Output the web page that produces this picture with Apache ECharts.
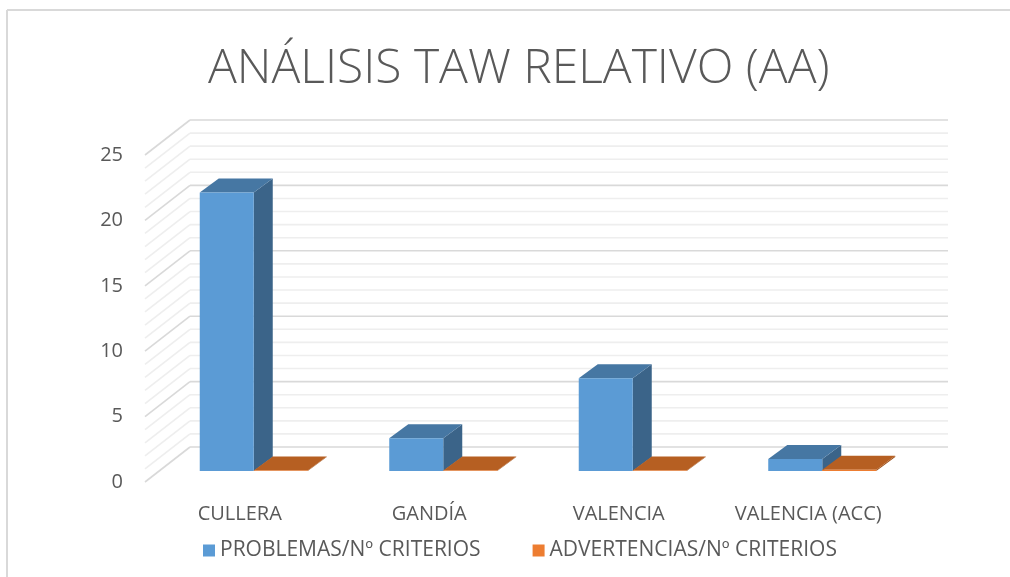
<!DOCTYPE html>
<html>
<head>
<meta charset="utf-8">
<script src="https://cdn.jsdelivr.net/npm/echarts@6/dist/echarts.min.js"></script>
<style>
  html, body { margin: 0; padding: 0; background: #ffffff; }
  #chart { width: 1010px; height: 577px; }
</style>
</head>
<body>
<div id="chart"></div>
<script>
// ---- data ----
const categories = ['CULLERA', 'GANDÍA', 'VALENCIA', 'VALENCIA (ACC)'];
const problemas = [21.3, 2.5, 7.1, 0.92];
const advertencias = [0.03, 0.03, 0.03, 0.1];
const seriesNames = ['PROBLEMAS/Nº CRITERIOS', 'ADVERTENCIAS/Nº CRITERIOS'];
const yMin = 0, yMax = 25, yInterval = 5, yMinor = 1;

// ---- styling constants ----
const FONT = '"Open Sans", "Noto Sans", sans-serif';
const TXT = '#595959';
const BAR_DEPTH = { dx: 19, dy: -14 };
const WALL = { dx: 31, dy: -24 };
const FRONT = { dx: -14, dy: 11 };
const BAR_FRAC = 0.285;
const BLUE = { front: '#5B9BD5', side: '#3B6489', top: '#4677A3' };
const ORANGE = { front: '#ED7D31', side: '#9E5019', top: '#B65F22' };

// gridline positions on the back wall (axis decoration)
const gridValues = [];
for (let v = yMin; v <= yMax; v += yMinor) gridValues.push([0, v]);

function barRenderer(slot, col) {
  return function (params, api) {
    const idx = api.value(0), val = api.value(1);
    const base = api.coord([idx, 0]);
    const top = api.coord([idx, val]);
    const band = api.size([1, 0])[0];
    const w = band * BAR_FRAC;
    const x0 = slot === 0 ? base[0] - w : base[0];
    const x1 = x0 + w;
    const yb = base[1], yt = Math.min(top[1], yb - 0.3);
    const dx = BAR_DEPTH.dx, dy = BAR_DEPTH.dy;
    return {
      type: 'group',
      children: [
        { type: 'polygon', shape: { points: [[x1, yt], [x1 + dx, yt + dy], [x1 + dx, yb + dy], [x1, yb]] },
          style: { fill: col.side } },
        { type: 'polygon', shape: { points: [[x0, yt], [x0 + dx, yt + dy], [x1 + dx, yt + dy], [x1, yt]] },
          style: { fill: col.top } },
        { type: 'rect', shape: { x: x0, y: yt, width: w, height: yb - yt },
          style: { fill: col.front } }
      ]
    };
  };
}

function gridRenderer(params, api) {
  const v = api.value(1);
  const y = api.coord([0, v])[1];
  const cs = params.coordSys;
  const xl = cs.x + WALL.dx, xr = cs.x + cs.width + WALL.dx, yw = y + WALL.dy;
  const major = (v % yInterval) === 0;
  const st = { stroke: major ? '#d9d9d9' : '#eeeeee', lineWidth: 1.6 };
  return {
    type: 'group',
    children: [
      { type: 'line', shape: { x1: xl, y1: yw, x2: xr, y2: yw }, style: st },
      { type: 'line', shape: { x1: xl, y1: yw, x2: cs.x + FRONT.dx, y2: y + FRONT.dy }, style: st }
    ]
  };
}

const chart = echarts.init(document.getElementById('chart'), null, { renderer: 'canvas' });
chart.setOption({
  backgroundColor: '#ffffff',
  animation: false,
  textStyle: { fontFamily: FONT },
  title: {
    text: 'ANÁLISIS TAW RELATIVO (AA)',
    left: 203,
    top: 40,
    textStyle: { fontFamily: FONT, fontSize: 48, fontWeight: 300, color: TXT }
  },
  legend: {
    data: seriesNames,
    left: 198,
    top: 535,
    icon: 'rect',
    itemWidth: 12,
    itemHeight: 12,
    itemGap: 52,
    textStyle: { fontFamily: FONT, fontSize: 21, color: TXT }
  },
  graphic: [
    { type: 'line', shape: { x1: 7, y1: 10, x2: 1010, y2: 10 }, style: { stroke: '#d9d9d9', lineWidth: 2 } },
    { type: 'line', shape: { x1: 7, y1: 10, x2: 7, y2: 577 }, style: { stroke: '#d9d9d9', lineWidth: 2 } }
  ],
  grid: [
    { left: 159, right: 93, top: 144, bottom: 106 },
    { left: 145, right: 107, top: 155, bottom: 95 }
  ],
  xAxis: [
    { gridIndex: 0, type: 'category', data: categories, show: false },
    { gridIndex: 1, type: 'category', data: categories,
      axisLine: { show: false }, axisTick: { show: false },
      axisLabel: { fontFamily: FONT, fontSize: 20, color: TXT, margin: 22, interval: 0 } }
  ],
  yAxis: [
    { gridIndex: 0, type: 'value', min: yMin, max: yMax, interval: yInterval, show: false },
    { gridIndex: 1, type: 'value', min: yMin, max: yMax, interval: yInterval,
      axisLine: { show: false }, axisTick: { show: false }, splitLine: { show: false },
      axisLabel: { fontFamily: FONT, fontSize: 20, color: TXT, margin: 22 } }
  ],
  series: [
    { type: 'custom', xAxisIndex: 0, yAxisIndex: 0, silent: true, z: 1,
      renderItem: gridRenderer, data: gridValues },
    { type: 'custom', name: seriesNames[0], xAxisIndex: 0, yAxisIndex: 0, z: 3,
      itemStyle: { color: BLUE.front },
      renderItem: barRenderer(0, BLUE),
      data: categories.map((c, i) => [i, problemas[i]]) },
    { type: 'custom', name: seriesNames[1], xAxisIndex: 0, yAxisIndex: 0, z: 3,
      itemStyle: { color: ORANGE.front },
      renderItem: barRenderer(1, ORANGE),
      data: categories.map((c, i) => [i, advertencias[i]]) }
  ]
});
</script>
</body>
</html>
